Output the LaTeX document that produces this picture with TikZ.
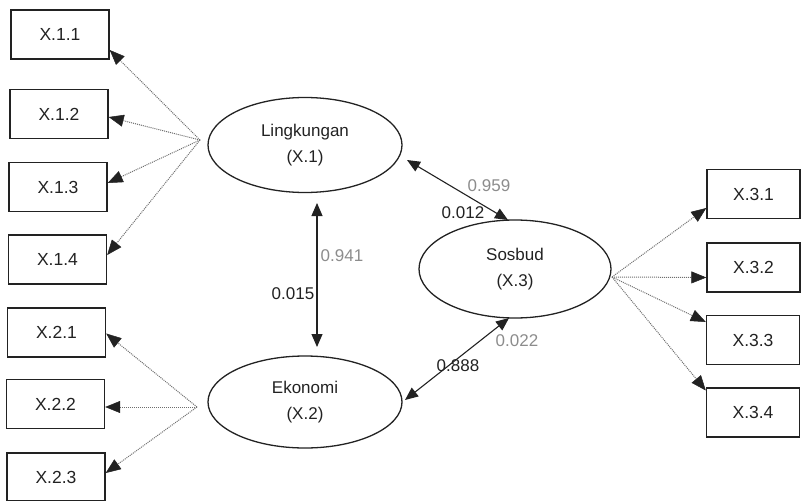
\documentclass[tikz,border=0pt]{standalone}
\usepackage{fontspec}
\setmainfont{Liberation Sans}
\usetikzlibrary{arrows.meta,shapes.geometric}
\definecolor{ink}{HTML}{222222}
\definecolor{lgray}{HTML}{8C8C8C}
\definecolor{dotc}{HTML}{6E6E6E}
\tikzset{
  ibox/.style={draw=ink,line width=1.4pt,minimum width=98pt,minimum height=49pt,inner sep=0pt,
    font=\fontsize{17.5}{20}\selectfont,text=ink},
  rbox/.style={ibox,minimum width=93pt},
  latent/.style={ellipse,draw=ink,line width=1.3pt,minimum width=194pt,minimum height=95pt,inner sep=0pt,
    align=center,font=\fontsize{17}{26}\selectfont,text=ink},
  load/.style={dotc,densely dotted,line width=1pt,-{Triangle[fill=ink,color=ink,length=15pt,width=12pt,line width=0.5pt]}},
  corr/.style={ink,line width=1.1pt,{Triangle[length=13pt,width=11pt]}-{Triangle[length=13pt,width=11pt]}},
  blab/.style={font=\fontsize{17}{20}\selectfont,text=ink,inner sep=0pt},
  glab/.style={font=\fontsize{17}{20}\selectfont,text=lgray,inner sep=0pt},
}
\begin{document}
\begin{tikzpicture}[x=1pt,y=-1pt]
\useasboundingbox (0,0) rectangle (802,500);
% left indicator boxes
\node[ibox] (x11) at (60,34.5) {X.1.1};
\node[ibox] (x12) at (59,114) {X.1.2};
\node[ibox] (x13) at (58,187) {X.1.3};
\node[ibox] (x14) at (57.5,259.5) {X.1.4};
\node[ibox] (x21) at (56.5,332.5) {X.2.1};
\node[ibox] (x22) at (55.5,404) {X.2.2};
\node[ibox,minimum height=48pt] (x23) at (56,477) {X.2.3};
% right indicator boxes
\node[rbox] (x31) at (753.5,194) {X.3.1};
\node[rbox] (x32) at (753.5,267.5) {X.3.2};
\node[rbox] (x33) at (753,340) {X.3.3};
\node[rbox] (x34) at (753,412.5) {X.3.4};
% latent variables
\node[latent] (L) at (305,145) {Lingkungan\\(X.1)};
\node[latent,minimum height=92pt] (E) at (305,402) {Ekonomi\\(X.2)};
\node[latent,minimum width=192pt,minimum height=98pt] (S) at (515,269) {Sosbud\\(X.3)};
% fan points
\coordinate (c1) at (200,140);
\coordinate (c2) at (197,407);
\coordinate (c3) at (612,277);
% loadings
\draw[load] (c1) -- ([yshift=-15.5pt]x11.east);
\draw[load] (c1) -- ([yshift=-3pt]x12.east);
\draw[load] (c1) -- ([yshift=4pt]x13.east);
\draw[load] (c1) -- ([yshift=4.5pt]x14.east);
\draw[load] (c2) -- ([yshift=-1pt]x21.east);
\draw[load] (c2) -- ([yshift=-3pt]x22.east);
\draw[load] (c2) -- ([yshift=4pt]x23.east);
\draw[load] (c3) -- ([yshift=-14pt]x31.west);
\draw[load] (c3) -- ([yshift=-10pt]x32.west);
\draw[load] (c3) -- ([yshift=18pt]x33.west);
\draw[load] (c3) -- ([yshift=22pt]x34.west);
% correlations
\draw[corr] ([shift={(12,58)}]L.center) -- ([shift={(12,-55)}]E.center);
\draw[corr] ([shift={(102,15)}]L.center) -- ([shift={(-7,-49)}]S.center);
\draw[corr] ([shift={(100,-2)}]E.center) -- ([shift={(-6,49)}]S.center);
% labels
\node[glab] (l959) at (489,186) {0.959};
\node[blab] (l012) at (463,213) {0.012};
\node[glab] (l941) at (342,256) {0.941};
\node[blab] (l015) at (293,294) {0.015};
\node[glab] (l022) at (517,341) {0.022};
\node[blab] (l888) at (458,366) {0.888};
\end{tikzpicture}
\end{document}
